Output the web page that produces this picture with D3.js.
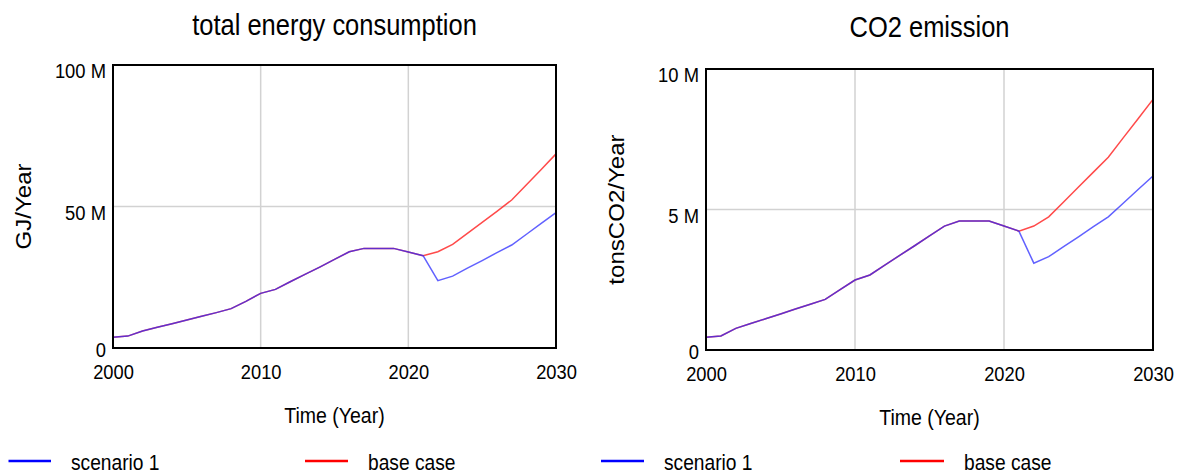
<!DOCTYPE html>
<html>
<head>
<meta charset="utf-8">
<script src="https://cdn.jsdelivr.net/npm/d3@7"></script>
<style>
  html, body { margin: 0; padding: 0; background: #fff; }
  svg { display: block; }
  text { font-family: "Liberation Sans", Arial, sans-serif; fill: #000; }
</style>
</head>
<body>
<svg id="chart" width="1178" height="476"></svg>
<script>
// Simulation years (annual output)
const years = d3.range(2000, 2031);

// Total energy consumption, million GJ/Year
const energyScenario1 = [3.8, 4.2, 6.0, 7.3, 8.6, 9.9, 11.2, 12.5, 13.9, 16.5, 19.3, 20.7, 23.4, 26.0, 28.6, 31.3, 34.0, 35.2, 35.2, 35.2, 33.9, 32.6, 23.8, 25.4, 28.2, 30.9, 33.7, 36.4, 40.2, 44.0, 47.8];
const energyBaseCase  = [3.8, 4.2, 6.0, 7.3, 8.6, 9.9, 11.2, 12.5, 13.9, 16.5, 19.3, 20.7, 23.4, 26.0, 28.6, 31.3, 34.0, 35.2, 35.2, 35.2, 33.9, 32.6, 34.0, 36.6, 40.5, 44.4, 48.3, 52.3, 57.7, 63.1, 68.6];

// CO2 emission, million tonsCO2/Year
const co2Scenario1 = [0.45, 0.50, 0.77, 0.94, 1.11, 1.28, 1.46, 1.63, 1.80, 2.15, 2.49, 2.67, 3.02, 3.37, 3.71, 4.06, 4.41, 4.59, 4.59, 4.59, 4.41, 4.23, 3.09, 3.32, 3.68, 4.03, 4.39, 4.74, 5.22, 5.71, 6.19];
const co2BaseCase  = [0.45, 0.50, 0.77, 0.94, 1.11, 1.28, 1.46, 1.63, 1.80, 2.15, 2.49, 2.67, 3.02, 3.37, 3.71, 4.06, 4.41, 4.59, 4.59, 4.59, 4.41, 4.23, 4.41, 4.74, 5.27, 5.80, 6.33, 6.86, 7.55, 8.23, 8.92];

// Axis ticks and labels
const yearTicks = [2000, 2010, 2020, 2030];
const energyTicks = [0, 50, 100];
const energyTickLabels = ["0", "50 M", "100 M"];
const co2Ticks = [0, 5, 10];
const co2TickLabels = ["0", "5 M", "10 M"];

const seriesNames = ["scenario 1", "base case"];
const seriesColors = ["#0000ff", "#ff0000"];

const svg = d3.select("#chart");
const SY = 1.13; // glyphs are drawn slightly taller than wide

function label(g, x, y, str, size, anchor, rotated) {
  return g.append("text")
    .attr("transform", rotated
      ? `translate(${x},${y}) rotate(-90) scale(${SY},1)`
      : `translate(${x},${y}) scale(1,${SY})`)
    .attr("font-size", size)
    .attr("text-anchor", anchor)
    .text(str);
}

function panel(cfg) {
  const g = svg.append("g");
  const x = d3.scaleLinear().domain([2000, 2030]).range([cfg.x0, cfg.x1]);
  const y = d3.scaleLinear().domain([0, cfg.yMax]).range([cfg.y1, cfg.y0]);

  // gridlines
  g.append("g").selectAll("line").data(yearTicks.slice(1, -1)).join("line")
    .attr("x1", d => x(d)).attr("x2", d => x(d))
    .attr("y1", cfg.y0).attr("y2", cfg.y1)
    .attr("stroke", "#d2d2d2").attr("stroke-width", 1.5);
  g.append("g").selectAll("line").data(cfg.yTicks.slice(1, -1)).join("line")
    .attr("x1", cfg.x0).attr("x2", cfg.x1)
    .attr("y1", d => y(d)).attr("y2", d => y(d))
    .attr("stroke", "#d2d2d2").attr("stroke-width", 1.5);

  // x axis
  const xa = g.append("g").attr("transform", `translate(0,${cfg.y1})`)
    .call(d3.axisBottom(x).tickValues(yearTicks).tickFormat(d3.format("d")).tickSize(0));
  xa.select(".domain").remove();
  xa.selectAll("text")
    .attr("y", null).attr("dy", null)
    .attr("transform", `translate(0,${cfg.xTickOffset}) scale(1,${SY})`)
    .attr("font-size", 18.3).attr("fill", "#000")
    .attr("font-family", "Liberation Sans, Arial, sans-serif");

  // y axis; the bottom label sits a little higher to clear the year labels
  const ya = g.append("g").attr("transform", `translate(${cfg.x0},0)`)
    .call(d3.axisLeft(y).tickValues(cfg.yTicks)
      .tickFormat((d, i) => cfg.yTickLabels[i]).tickSize(0));
  ya.select(".domain").remove();
  ya.selectAll("text")
    .attr("x", null).attr("dy", null)
    .attr("transform", d => `translate(-7,${d === 0 ? 8 : 12.5}) scale(1,${SY})`)
    .attr("font-size", 18.4).attr("fill", "#000")
    .attr("font-family", "Liberation Sans, Arial, sans-serif");

  // series lines: base case underneath, scenario 1 on top
  const line = d3.line().x((d, i) => x(years[i])).y(d => y(d));
  g.append("path").datum(cfg.base)
    .attr("d", line).attr("fill", "none")
    .attr("stroke", "#ff2a2a").attr("stroke-width", 1.5).attr("stroke-opacity", 0.85);
  g.append("path").datum(cfg.scen)
    .attr("d", line).attr("fill", "none")
    .attr("stroke", "#2424ff").attr("stroke-width", 1.5).attr("stroke-opacity", 0.72);

  // frame
  g.append("rect")
    .attr("x", cfg.x0).attr("y", cfg.y0)
    .attr("width", cfg.x1 - cfg.x0).attr("height", cfg.y1 - cfg.y0)
    .attr("fill", "none").attr("stroke", "#000").attr("stroke-width", 2);

  // titles and axis labels
  label(g, (cfg.x0 + cfg.x1) / 2, cfg.titleY, cfg.title, 25.5, "middle");
  label(g, (cfg.x0 + cfg.x1) / 2, cfg.xLabelY, "Time (Year)", 19.5, "middle");
  label(g, cfg.yLabelX, (cfg.y0 + cfg.y1) / 2, cfg.yLabel, 21.3, "middle", true);

  // legend
  cfg.legend.forEach((L, i) => {
    g.append("line")
      .attr("x1", L.lx0).attr("x2", L.lx1)
      .attr("y1", 461).attr("y2", 461)
      .attr("stroke", seriesColors[i]).attr("stroke-width", 2.5);
    label(g, L.tx, 470, seriesNames[i], 19.2, "start");
  });
}

panel({
  x0: 113, x1: 556, y0: 65, y1: 348, yMax: 100,
  yTicks: energyTicks, yTickLabels: energyTickLabels,
  scen: energyScenario1, base: energyBaseCase,
  title: "total energy consumption", titleY: 35,
  xTickOffset: 31, xLabelY: 423,
  yLabel: "GJ/Year", yLabelX: 31,
  legend: [{lx0: 8.5, lx1: 51, tx: 71}, {lx0: 305, lx1: 348, tx: 368}]
});

panel({
  x0: 706, x1: 1153, y0: 69, y1: 350, yMax: 10,
  yTicks: co2Ticks, yTickLabels: co2TickLabels,
  scen: co2Scenario1, base: co2BaseCase,
  title: "CO2 emission", titleY: 36.7,
  xTickOffset: 30.5, xLabelY: 425,
  yLabel: "tonsCO2/Year", yLabelX: 624,
  legend: [{lx0: 601, lx1: 644, tx: 664}, {lx0: 900, lx1: 944, tx: 964}]
});
</script>
</body>
</html>
